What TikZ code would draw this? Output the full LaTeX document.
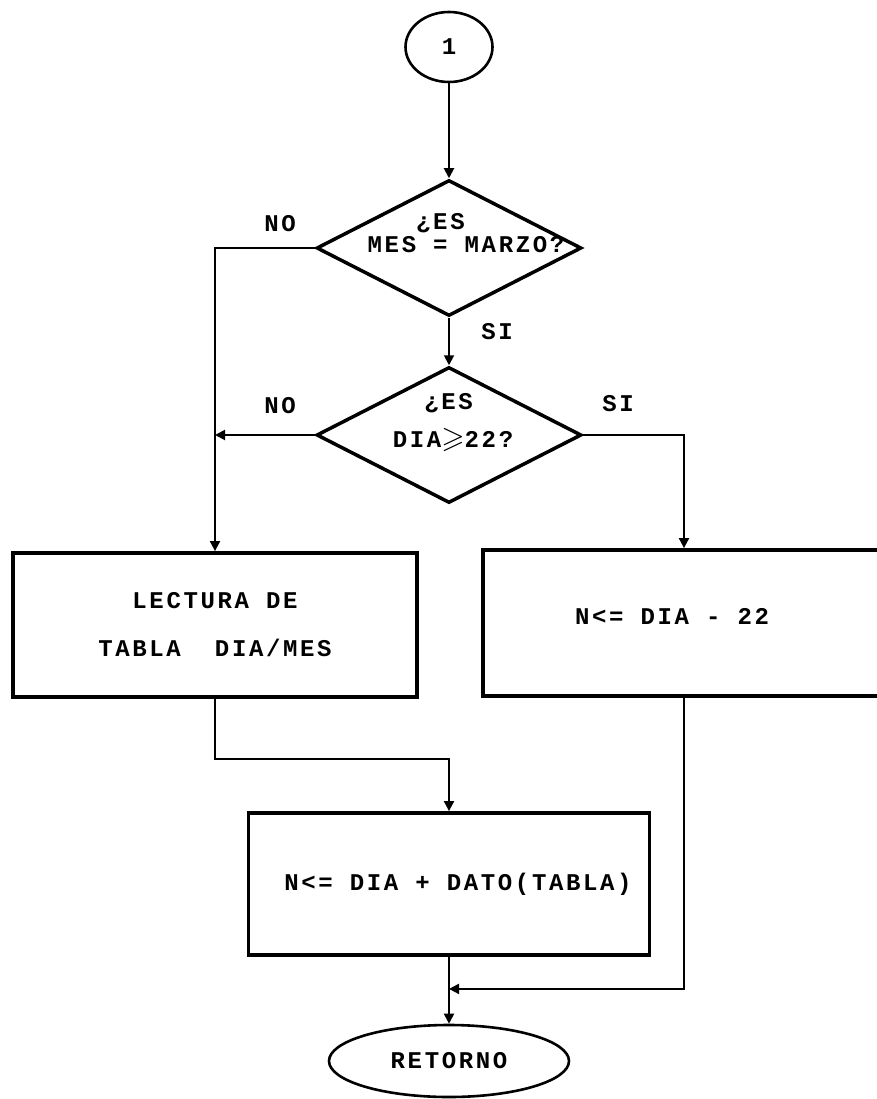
\documentclass[tikz,border=0pt]{standalone}
\usepackage{fontspec}
\usepackage{amssymb}
\usetikzlibrary{positioning,arrows.meta,shapes.geometric}
\newfontfamily\typewr{Liberation Mono}[LetterSpace=11.0]
% text of a decision, kept out of the diamond's size
\newcommand{\qtxt}[3]{\raisebox{#2}[0pt][0pt]{\makebox[0pt]{\hspace*{#1}\begin{tabular}{@{}l@{}}#3\end{tabular}}}}

\begin{document}
\begin{tikzpicture}[
        x=1pt, y=-1pt,
        font=\typewr\bfseries\fontsize{24}{28}\selectfont,
        ask/.style={diamond, draw, line width=3.5pt, inner sep=0pt, minimum width=265pt, minimum height=136pt},
        proc/.style={rectangle, draw, line width=3.8pt, align=center, inner sep=0pt},
        term/.style={ellipse, draw, line width=2.6pt, inner sep=0pt},
        lbl/.style={inner sep=0pt},
        flow/.style={draw, line width=1.9pt, -{Triangle[length=10pt,width=10pt]}}
    ]
        \useasboundingbox (0,0) rectangle (877,1099);

        \node [term, minimum width=87pt, minimum height=70pt] (start) at (449,47) {1};
        \node [ask] (q1) at (449,248) {\qtxt{34pt}{6.5pt}{\phantom{MES}¿ES\\[-5pt] MES = MARZO?}};
        \node [ask] (q2) at (449,435) {\qtxt{8pt}{6pt}{\phantom{DI}¿ES\\[10pt] DIA{\fontsize{30}{30}\selectfont$\geqslant$}22?}};
        \node [proc, minimum width=404pt, minimum height=144pt] (b1) at (215,625) {LECTURA DE\\[20pt] TABLA\ \ DIA/MES};
        \node [proc, minimum width=402pt, minimum height=146pt] (b2) at (684,623) {\raisebox{13pt}{N<= DIA - 22}\hspace*{24pt}};
        \node [proc, minimum width=401pt, minimum height=142pt] (b3) at (449,884) {\hspace*{18pt}N<= DIA + DATO(TABLA)};
        \node [term, minimum width=240pt, minimum height=72pt] (ret) at (449,1061) {RETORNO};
        \coordinate (jn) at ([yshift=-32pt]b3.south);

        \node [lbl] (no1) at (280,224) {NO};
        \node [lbl] (si1) at (497,332) {SI};
        \node [lbl] (no2) at (280,406) {NO};
        \node [lbl] (si2) at (618,404) {SI};

        \draw [flow] (start) -- (q1);
        \draw [flow] (q1.west) -| (b1.north);
        \draw [flow] (q1) -- (q2);
        \draw [flow] (q2.west) -- (q2.west -| b1.north);
        \draw [flow] (q2.east) -| (b2.north);
        \draw [flow] (b1.south) -- ++(0,60) -| (b3.north);
        \draw [flow] (b3) -- (ret);
        \draw [flow] (b2.south) |- (jn);
    \end{tikzpicture}
\end{document}
